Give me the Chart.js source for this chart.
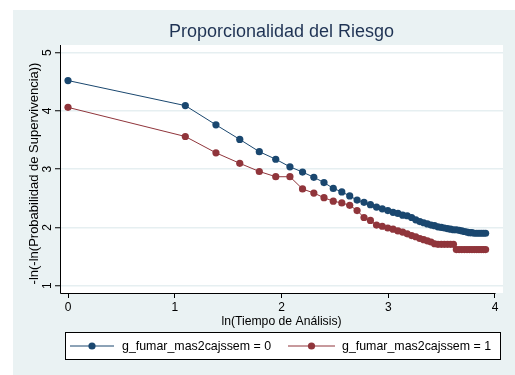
<!DOCTYPE html>
<html>
<head>
<meta charset="utf-8">
<script src="https://cdn.jsdelivr.net/npm/chart.js@4"></script>
<style>
  html, body { margin: 0; padding: 0; background: #ffffff; }
  #wrap { width: 515px; height: 375px; }
</style>
</head>
<body>
<div id="wrap"><canvas id="c" width="515" height="375"></canvas></div>
<script>
// ---- data ----
const TITLE = "Proporcionalidad del Riesgo";
const X_TITLE = "ln(Tiempo de Análisis)";
const Y_TITLE = "-ln(-ln(Probabilidad de Supervivencia))";
const SERIES_LABELS = ["g_fumar_mas2cajssem = 0", "g_fumar_mas2cajssem = 1"];
const X_TICKS = [0, 1, 2, 3, 4];
const Y_TICKS = [1, 2, 3, 4, 5];

const lnTime = [0, 1.099, 1.386, 1.609, 1.792, 1.946, 2.079, 2.197, 2.303, 2.398,
  2.485, 2.565, 2.639, 2.708, 2.773, 2.833, 2.890, 2.944, 2.996, 3.045,
  3.091, 3.135, 3.178, 3.219, 3.258, 3.296, 3.332, 3.367, 3.401, 3.434,
  3.466, 3.497, 3.526, 3.555, 3.584, 3.611, 3.638, 3.664, 3.689, 3.714,
  3.738, 3.761, 3.784, 3.807, 3.829, 3.850, 3.871, 3.892, 3.912];

const group0 = [4.52, 4.09, 3.76, 3.51, 3.30, 3.17, 3.04, 2.95, 2.86, 2.77,
  2.67, 2.61, 2.54, 2.47, 2.43, 2.39, 2.35, 2.32, 2.29, 2.26,
  2.24, 2.21, 2.20, 2.17, 2.13, 2.10, 2.08, 2.06, 2.04, 2.03,
  2.01, 2.00, 1.99, 1.98, 1.97, 1.96, 1.96, 1.95, 1.94, 1.93,
  1.92, 1.91, 1.91, 1.90, 1.90, 1.90, 1.90, 1.90, 1.90];

const group1 = [4.06, 3.56, 3.28, 3.10, 2.96, 2.87, 2.87, 2.66, 2.59, 2.51,
  2.45, 2.42, 2.38, 2.29, 2.17, 2.12, 2.04, 2.02, 1.99, 1.97,
  1.94, 1.92, 1.89, 1.86, 1.84, 1.81, 1.79, 1.77, 1.75, 1.72,
  1.71, 1.71, 1.71, 1.71, 1.71, 1.71, 1.62, 1.62, 1.62, 1.62,
  1.62, 1.62, 1.62, 1.62, 1.62, 1.62, 1.62, 1.62, 1.62];

// ---- styling ----
const NAVY = "#1a476f";
const MAROON = "#90353b";
const BG = "#eaf2f3";
const GRID = "#e6eff1";
const FONT = "'Liberation Sans', Arial, Helvetica, sans-serif";

const toPts = (xs, ys) => xs.map((x, i) => ({ x: x, y: ys[i] }));

const bgPlugin = {
  id: "stataBg",
  beforeDraw(chart) {
    const ctx = chart.ctx, a = chart.chartArea;
    ctx.save();
    ctx.fillStyle = "#ffffff";
    ctx.fillRect(0, 0, chart.width, chart.height);
    ctx.fillStyle = BG;
    ctx.fillRect(13, 10, chart.width - 13, chart.height - 10);
    ctx.fillStyle = "#ffffff";
    ctx.fillRect(a.left, a.top, a.right - a.left, a.bottom - a.top);
    ctx.restore();
  },
  afterDraw(chart) {
    const ctx = chart.ctx, a = chart.chartArea;
    const xs = chart.scales.x;
    ctx.save();
    // axis lines
    ctx.strokeStyle = "#000000";
    ctx.lineWidth = 1;
    ctx.beginPath();
    ctx.moveTo(a.left + 0.5, a.top);
    ctx.lineTo(a.left + 0.5, a.bottom + 0.5);
    ctx.lineTo(xs.getPixelForValue(X_TICKS[X_TICKS.length - 1]) + 0.5, a.bottom + 0.5);
    ctx.stroke();

    // title
    ctx.fillStyle = "#1f3354";
    ctx.font = "18px " + FONT;
    ctx.textAlign = "center";
    ctx.textBaseline = "middle";
    ctx.fillText(TITLE, (a.left + a.right) / 2, 32);

    // y axis title (rotated)
    ctx.save();
    ctx.translate(34, 173.5);
    ctx.rotate(-Math.PI / 2);
    ctx.fillStyle = "#000000";
    ctx.font = "13px " + FONT;
    ctx.textAlign = "center";
    ctx.textBaseline = "middle";
    ctx.fillText(Y_TITLE, 0, 0);
    ctx.restore();

    // legend
    const bx = 65, by = 332, bw = 435, bh = 27;
    ctx.fillStyle = "#ffffff";
    ctx.fillRect(bx, by, bw, bh);
    ctx.strokeStyle = "#000000";
    ctx.lineWidth = 1;
    ctx.strokeRect(bx + 0.5, by + 0.5, bw, bh);
    const cy = by + bh / 2 + 0.5;
    const items = [
      { x0: 70, x1: 114, tx: 122, ds: chart.data.datasets[0] },
      { x0: 288, x1: 335, tx: 342, ds: chart.data.datasets[1] }
    ];
    ctx.font = "12.4px " + FONT;
    ctx.textAlign = "left";
    ctx.textBaseline = "middle";
    items.forEach(it => {
      ctx.strokeStyle = it.ds.borderColor;
      ctx.lineWidth = 1;
      ctx.beginPath();
      ctx.moveTo(it.x0, cy);
      ctx.lineTo(it.x1, cy);
      ctx.stroke();
      ctx.fillStyle = it.ds.pointBackgroundColor;
      ctx.beginPath();
      ctx.arc((it.x0 + it.x1) / 2, cy, 3.6, 0, Math.PI * 2);
      ctx.fill();
      ctx.fillStyle = "#000000";
      ctx.fillText(it.ds.label, it.tx, cy + 0.5);
    });
    ctx.restore();
  }
};

new Chart(document.getElementById("c"), {
  type: "line",
  data: {
    datasets: [
      {
        label: SERIES_LABELS[0],
        data: toPts(lnTime, group0),
        borderColor: NAVY,
        backgroundColor: NAVY,
        pointBackgroundColor: NAVY,
        pointBorderColor: NAVY,
        borderWidth: 1,
        pointRadius: 3.6,
        pointBorderWidth: 0,
        tension: 0
      },
      {
        label: SERIES_LABELS[1],
        data: toPts(lnTime, group1),
        borderColor: MAROON,
        backgroundColor: MAROON,
        pointBackgroundColor: MAROON,
        pointBorderColor: MAROON,
        borderWidth: 1,
        pointRadius: 3.6,
        pointBorderWidth: 0,
        tension: 0
      }
    ]
  },
  options: {
    responsive: false,
    animation: false,
    devicePixelRatio: 1,
    layout: { padding: { left: 0, top: 45, right: 12, bottom: 0 } },
    plugins: {
      legend: { display: false },
      title: { display: false },
      tooltip: { enabled: false }
    },
    scales: {
      x: {
        type: "linear",
        min: -0.075,
        max: 4.075,
        afterBuildTicks: s => { s.ticks = X_TICKS.map(v => ({ value: v })); },
        afterFit: s => { s.height = 82; },
        border: { display: false },
        grid: { color: "rgba(0,0,0,0)", drawTicks: true, tickLength: 5, tickColor: "#000000", tickWidth: 1 },
        ticks: { color: "#000000", font: { family: FONT, size: 12 }, padding: 2, maxRotation: 0, autoSkip: false },
        title: { display: true, text: X_TITLE, color: "#000000", font: { family: FONT, size: 12.2 }, padding: { top: 0, bottom: 46 } }
      },
      y: {
        type: "linear",
        min: 0.875,
        max: 5.13,
        afterBuildTicks: s => { s.ticks = Y_TICKS.map(v => ({ value: v })); },
        afterFit: s => { s.width = 60; },
        border: { display: false },
        grid: { color: GRID, lineWidth: 1.5, drawTicks: true, tickLength: 5, tickColor: "#000000", tickWidth: 1 },
        ticks: { color: "#000000", font: { family: FONT, size: 12 }, padding: 4, minRotation: 90, maxRotation: 90, crossAlign: "center" },
        title: { display: false, text: Y_TITLE }
      }
    }
  },
  plugins: [bgPlugin]
});
</script>
</body>
</html>
